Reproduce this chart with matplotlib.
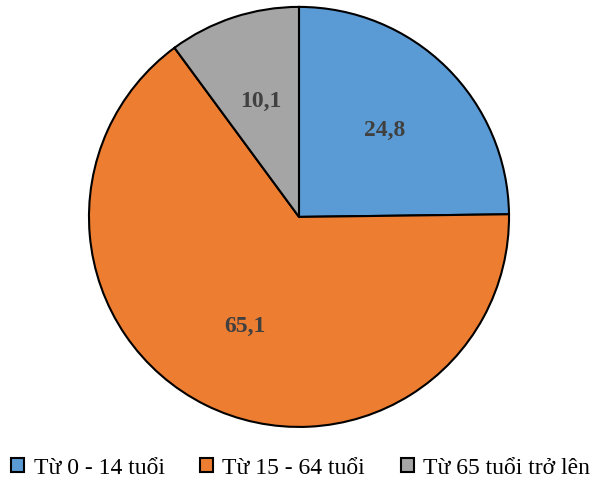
import matplotlib.pyplot as plt

# Cơ cấu dân số theo nhóm tuổi (%)
nhom_tuoi = ["Từ 0 - 14 tuổi", "Từ 15 - 64 tuổi", "Từ 65 tuổi trở lên"]
ty_le = [24.8, 65.1, 10.1]
mau = ["#5B9BD5", "#ED7D31", "#A5A5A5"]

plt.rcParams['font.family'] = ['Liberation Serif', 'DejaVu Serif']

fig = plt.figure(figsize=(6.01, 4.93), dpi=100)
ax = fig.add_axes([0.148, 0.134, 0.699, 0.852])

wedges, texts, autotexts = ax.pie(
    ty_le, colors=mau, startangle=90, counterclock=False,
    autopct=lambda p: "", pctdistance=0.58,
    wedgeprops=dict(edgecolor="black", linewidth=1.5))

for t, v in zip(autotexts, ty_le):
    t.set_text(f"{v:.1f}".replace(".", ","))
    t.set_fontsize(17)
    t.set_fontweight("bold")
    t.set_color("#404040")

ax.set_xlim(-1.0, 1.0)
ax.set_ylim(-1.0, 1.0)
ax.set_aspect("equal")

fig.legend(wedges, nhom_tuoi, loc="lower center", ncol=3, frameon=False,
           bbox_to_anchor=(0.5, -0.014), fontsize=17, handlelength=0.55,
           handleheight=0.55, handletextpad=0.4, columnspacing=1.5)
for h in fig.legends[0].legend_handles:
    h.set_edgecolor("black")
    h.set_linewidth(1.5)

fig.savefig("out.png", dpi=100)
